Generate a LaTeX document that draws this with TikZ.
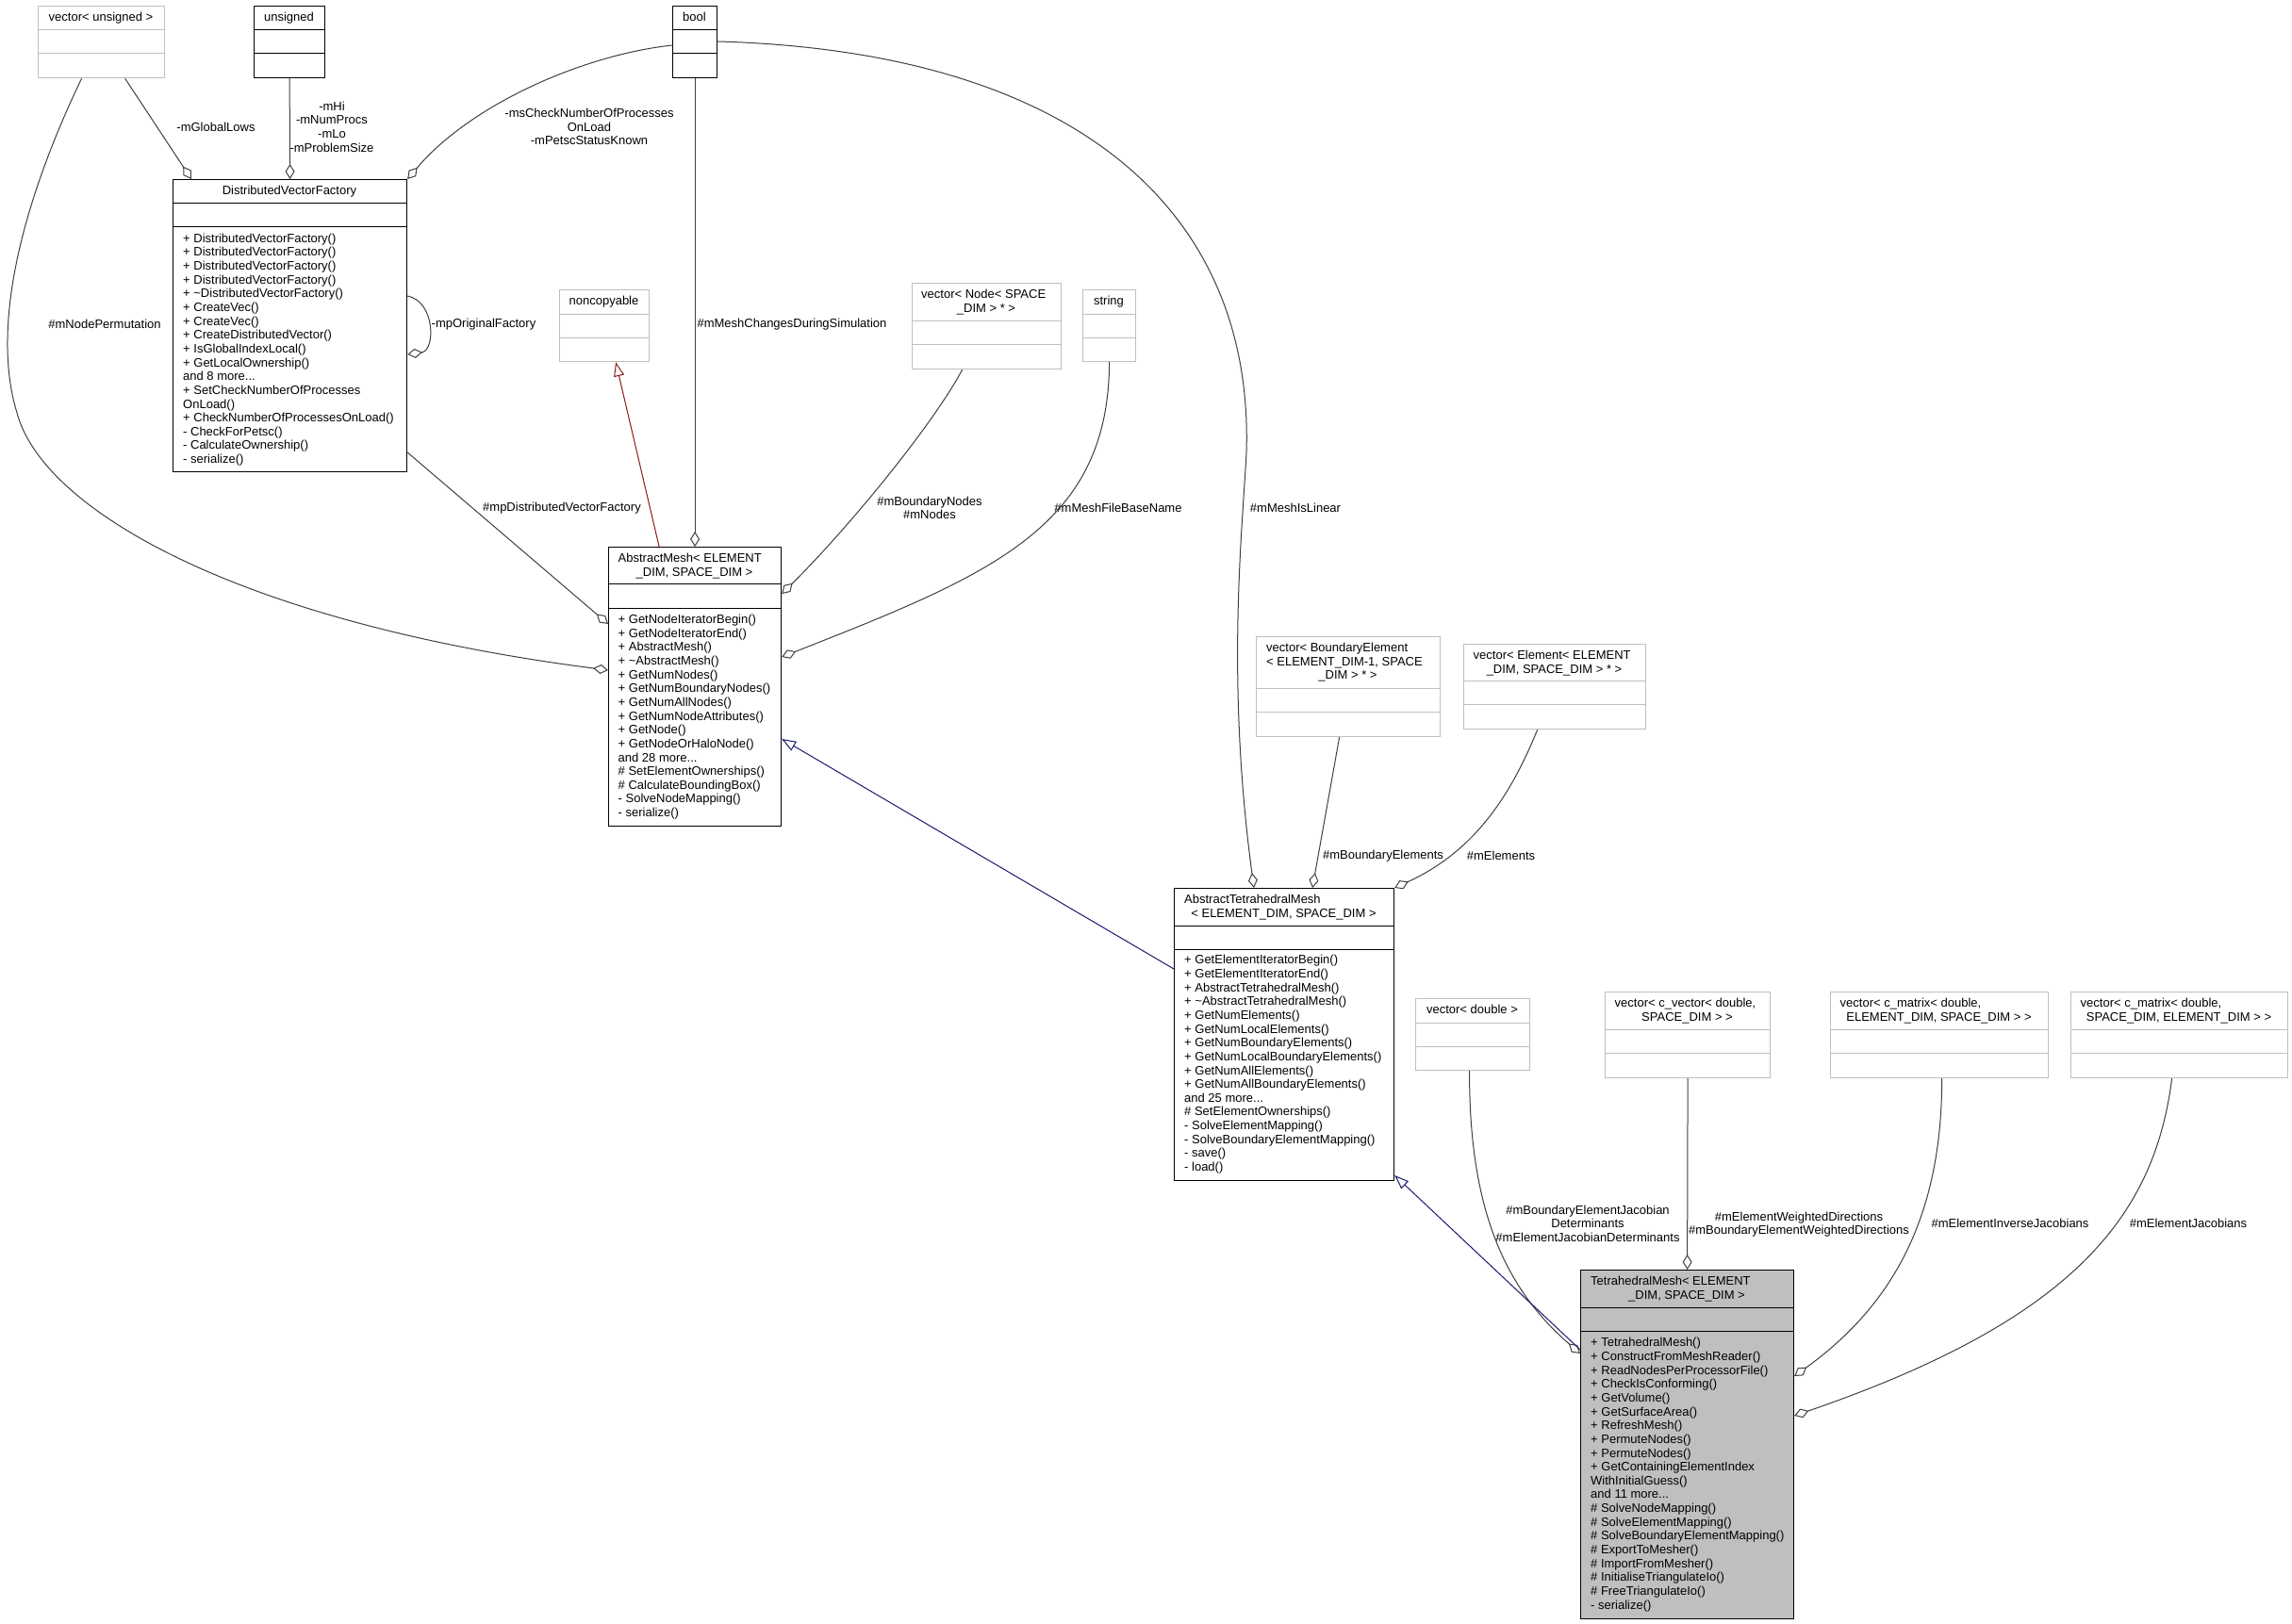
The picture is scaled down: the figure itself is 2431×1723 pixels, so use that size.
\documentclass[tikz,border=0pt]{standalone}
\usepackage{fontspec}
\setmainfont{Liberation Sans}
\usetikzlibrary{arrows.meta}
\definecolor{edgegray}{HTML}{404040}
\definecolor{lightbox}{HTML}{BFBFBF}
\definecolor{inhred}{HTML}{8B1A1A}
\definecolor{inhblue}{HTML}{191970}
\tikzset{
  txt/.style={font=\fontsize{13}{14.65}\selectfont, inner sep=0pt, text=black},
  lbl/.style={txt, align=center, anchor=center},
  classb/.style={draw=black, line width=1.2pt, inner sep=0pt, anchor=north west, fill=white},
  classbsep/.style={draw=black, line width=1pt},
  classg/.style={draw=lightbox, line width=1.2pt, inner sep=0pt, anchor=north west, fill=white},
  classgsep/.style={draw=lightbox, line width=1pt},
  classf/.style={draw=black, line width=1.2pt, inner sep=0pt, anchor=north west, fill=lightbox},
  classfsep/.style={draw=black, line width=1pt},
  assoc/.style={draw=edgegray, line width=1pt, -{Diamond[open, length=16pt, width=10pt]}},
  inhr/.style={draw=inhred, line width=1pt, -{Triangle[open, length=15pt, width=11pt]}},
  inhb/.style={draw=inhblue, line width=1pt, -{Triangle[open, length=15pt, width=11pt]}},
}
% #1 name, #2 style, #3 x, #4 y, #5 w, #6 h, #7 first separator, #8 second separator
\newcommand\ClassBox[8]{%
  \node[#2, minimum width=#5pt, minimum height=#6pt] (#1) at (#3,#4) {};
  \draw[#2sep] ([yshift=-#7pt]#1.north west) -- ([yshift=-#7pt]#1.north east);
  \draw[#2sep] ([yshift=-#8pt]#1.north west) -- ([yshift=-#8pt]#1.north east);
}
\newcommand\HeadL[4]{\node[txt, anchor=base west] (#1) at (#2,#3) {#4};}
\newcommand\HeadC[4]{\node[txt, anchor=base] (#1) at (#2,#3) {#4};}
\newcommand\Members[4]{%
  \foreach \mtext [count=\mi from 0] in {#4} {%
    \node[txt, anchor=base west] (#1-\mi) at (#2, {#3+14.65*\mi}) {\mtext};
  }%
}
\begin{document}
\begin{tikzpicture}[x=1pt,y=-1pt]
\fill[white] (0,0) rectangle (2431,1723);
\useasboundingbox (0,0) rectangle (2431,1723);

% ---------------- boxes ----------------
\ClassBox{vu}{classg}{40}{6}{134}{76}{26}{51}
\ClassBox{uns}{classb}{269}{6}{75}{76}{26}{51}
\ClassBox{bool}{classb}{713}{6}{47}{76}{26}{51}
\ClassBox{dvf}{classb}{183}{190}{248}{310}{25.5}{50.5}
\ClassBox{nc}{classg}{593}{307}{95}{76}{26}{51}
\ClassBox{am}{classb}{645}{580}{183}{296}{39.5}{65}
\ClassBox{vnode}{classg}{967}{300}{158}{91}{40}{65}
\ClassBox{str}{classg}{1148}{307}{56}{76}{26}{51}
\ClassBox{vbe}{classg}{1332}{675}{195}{106}{55}{80}
\ClassBox{vel}{classg}{1552}{683}{193}{90}{39}{64}
\ClassBox{atm}{classb}{1245}{942}{233}{310}{40}{65}
\ClassBox{vd}{classg}{1501}{1059}{121}{76}{26}{51}
\ClassBox{cvec}{classg}{1702}{1052}{175}{91}{40}{65}
\ClassBox{cmA}{classg}{1941}{1052}{231}{91}{40}{65}
\ClassBox{cmB}{classg}{2196}{1052}{230}{91}{40}{65}
\ClassBox{tm}{classf}{1676}{1347}{226}{370}{40}{65.5}

% ---------------- headers ----------------
\HeadC{vu-t}{107}{22.3}{vector< unsigned >}
\HeadC{uns-t}{306.5}{22.3}{unsigned}
\HeadC{bool-t}{736.5}{22.3}{bool}
\HeadC{dvf-t}{307}{206.3}{DistributedVectorFactory}
\HeadC{nc-t}{640.5}{323.3}{noncopyable}
\HeadL{am-t1}{655.5}{596.3}{AbstractMesh< ELEMENT}
\HeadC{am-t2}{736.5}{611}{\_DIM, SPACE\_DIM >}
\HeadL{vnode-t1}{977}{316.3}{vector< Node< SPACE}
\HeadC{vnode-t2}{1046}{331}{\_DIM > * >}
\HeadC{str-t}{1176}{323.3}{string}
\HeadL{vbe-t1}{1343}{691.3}{vector< BoundaryElement}
\HeadL{vbe-t2}{1343}{706}{< ELEMENT\_DIM-1, SPACE}
\HeadC{vbe-t3}{1429.5}{720.7}{\_DIM > * >}
\HeadL{vel-t1}{1562.5}{699.3}{vector< Element< ELEMENT}
\HeadC{vel-t2}{1648.5}{714}{\_DIM, SPACE\_DIM > * >}
\HeadL{atm-t1}{1256}{958.3}{AbstractTetrahedralMesh}
\HeadC{atm-t2}{1361.5}{973}{< ELEMENT\_DIM, SPACE\_DIM >}
\HeadC{vd-t}{1561.5}{1075.3}{vector< double >}
\HeadL{cvec-t1}{1712.5}{1068.3}{vector< c\_vector< double,}
\HeadC{cvec-t2}{1789.5}{1083}{SPACE\_DIM > >}
\HeadL{cmA-t1}{1951.5}{1068.3}{vector< c\_matrix< double,}
\HeadC{cmA-t2}{2056.5}{1083}{ELEMENT\_DIM, SPACE\_DIM > >}
\HeadL{cmB-t1}{2206.5}{1068.3}{vector< c\_matrix< double,}
\HeadC{cmB-t2}{2311}{1083}{SPACE\_DIM, ELEMENT\_DIM > >}
\HeadL{tm-t1}{1687}{1363.3}{TetrahedralMesh< ELEMENT}
\HeadC{tm-t2}{1789}{1378}{\_DIM, SPACE\_DIM >}

% ---------------- members ----------------
\Members{dvf-m}{194}{257.2}{+ DistributedVectorFactory(), + DistributedVectorFactory(), + DistributedVectorFactory(), + DistributedVectorFactory(), + \textasciitilde DistributedVectorFactory(), + CreateVec(), + CreateVec(), + CreateDistributedVector(), + IsGlobalIndexLocal(), + GetLocalOwnership(), and 8 more.{}.{}., + SetCheckNumberOfProcesses, OnLoad(), + CheckNumberOfProcessesOnLoad(), - CheckForPetsc(), - CalculateOwnership(), - serialize()}
\Members{am-m}{655.5}{661.5}{+ GetNodeIteratorBegin(), + GetNodeIteratorEnd(), + AbstractMesh(), + \textasciitilde AbstractMesh(), + GetNumNodes(), + GetNumBoundaryNodes(), + GetNumAllNodes(), + GetNumNodeAttributes(), + GetNode(), + GetNodeOrHaloNode(), and 28 more.{}.{}., \# SetElementOwnerships(), \# CalculateBoundingBox(), - SolveNodeMapping(), - serialize()}
\Members{atm-m}{1256}{1022.8}{+ GetElementIteratorBegin(), + GetElementIteratorEnd(), + AbstractTetrahedralMesh(), + \textasciitilde AbstractTetrahedralMesh(), + GetNumElements(), + GetNumLocalElements(), + GetNumBoundaryElements(), + GetNumLocalBoundaryElements(), + GetNumAllElements(), + GetNumAllBoundaryElements(), and 25 more.{}.{}., \# SetElementOwnerships(), - SolveElementMapping(), - SolveBoundaryElementMapping(), - save(), - load()}
\Members{tm-m}{1687}{1428.8}{+ TetrahedralMesh(), + ConstructFromMeshReader(), + ReadNodesPerProcessorFile(), + CheckIsConforming(), + GetVolume(), + GetSurfaceArea(), + RefreshMesh(), + PermuteNodes(), + PermuteNodes(), + GetContainingElementIndex, WithInitialGuess(), and 11 more.{}.{}., \# SolveNodeMapping(), \# SolveElementMapping(), \# SolveBoundaryElementMapping(), \# ExportToMesher(), \# ImportFromMesher(), \# InitialiseTriangulateIo(), \# FreeTriangulateIo(), - serialize()}

% ---------------- connectors ----------------
\draw[assoc] ([xshift=25pt]vu.south) -- ([xshift=20pt]dvf.north west);
\draw[assoc] ([xshift=-21pt]vu.south) .. controls (40,180) and (-15,330) .. (18,438)
   .. controls (45,540) and (250,660) .. ([yshift=-131pt]am.north west);
\draw[assoc] (uns.south) -- (dvf.north);
\draw[assoc] ([yshift=-42pt]bool.north west) .. controls (620,58) and (500,110) .. (dvf.north east);
\draw[assoc] ([yshift=-124pt]dvf.north east) .. controls (462,320) and (462,372) .. ([yshift=-186pt]dvf.north east);
\draw[assoc] ([yshift=-290pt]dvf.north east) -- ([yshift=-82pt]am.north west);
\draw[assoc] (bool.south) -- (am.north);
\draw[inhr] ([xshift=-38pt]am.north) -- ([xshift=12pt]nc.south);
\draw[assoc] ([xshift=-26pt]vnode.south) .. controls (990,450) and (900,560) .. ([yshift=-50pt]am.north east);
\draw[assoc] (str.south) .. controls (1176,560) and (1050,610) .. ([yshift=-117pt]am.north east);
\draw[assoc] ([yshift=-38pt]bool.north east) .. controls (1150,55) and (1330,230) .. (1322,480)
   .. controls (1318,560) and (1300,720) .. ([xshift=85pt]atm.north west);
\draw[assoc] ([xshift=-9.5pt]vbe.south) -- ([xshift=147pt]atm.north west);
\draw[assoc] ([xshift=-18.5pt]vel.south) .. controls (1600,850) and (1560,905) .. (atm.north east);
\draw[inhb] ([yshift=-86pt]atm.north west) -- ([yshift=-204pt]am.north east);
\draw[assoc] ([xshift=-3.5pt]vd.south) .. controls (1558,1290) and (1600,1370) .. ([yshift=-89pt]tm.north west);
\draw[assoc] (cvec.south) -- (tm.north);
\draw[assoc] ([xshift=2.5pt]cmA.south) .. controls (2060,1300) and (2000,1390) .. ([yshift=-113pt]tm.north east);
\draw[assoc] ([xshift=-8pt]cmB.south) .. controls (2285,1290) and (2200,1400) .. ([yshift=-155pt]tm.north east);
\draw[inhb] ([yshift=-85pt]tm.north west) -- ([yshift=-305pt]atm.north east);

% ---------------- connector labels ----------------
\node[lbl] (l-globallows) at (229,135) {-mGlobalLows};
\node[lbl] (l-nodeperm) at (111,344) {\#mNodePermutation};
\node[lbl] (l-hi) at (352,134.5) {-mHi\\-mNumProcs\\-mLo\\-mProblemSize};
\node[lbl] (l-check) at (625,134.5) {-msCheckNumberOfProcesses\\OnLoad\\-mPetscStatusKnown};
\node[lbl] (l-orig) at (513,344) {-mpOriginalFactory};
\node[lbl] (l-dvf) at (596,539) {\#mpDistributedVectorFactory};
\node[lbl] (l-changes) at (840,344) {\#mMeshChangesDuringSimulation};
\node[lbl] (l-nodes) at (986,539) {\#mBoundaryNodes\\\#mNodes};
\node[lbl] (l-file) at (1186,539) {\#mMeshFileBaseName};
\node[lbl] (l-linear) at (1374,539) {\#mMeshIsLinear};
\node[lbl] (l-belems) at (1467,908) {\#mBoundaryElements};
\node[lbl] (l-elems) at (1592,908) {\#mElements};
\node[lbl] (l-det) at (1684,1298) {\#mBoundaryElementJacobian\\Determinants\\\#mElementJacobianDeterminants};
\node[lbl] (l-wdir) at (1908,1299) {\#mElementWeightedDirections\\\#mBoundaryElementWeightedDirections};
\node[lbl] (l-invjac) at (2132,1298) {\#mElementInverseJacobians};
\node[lbl] (l-jac) at (2321,1298) {\#mElementJacobians};
\end{tikzpicture}
\end{document}
